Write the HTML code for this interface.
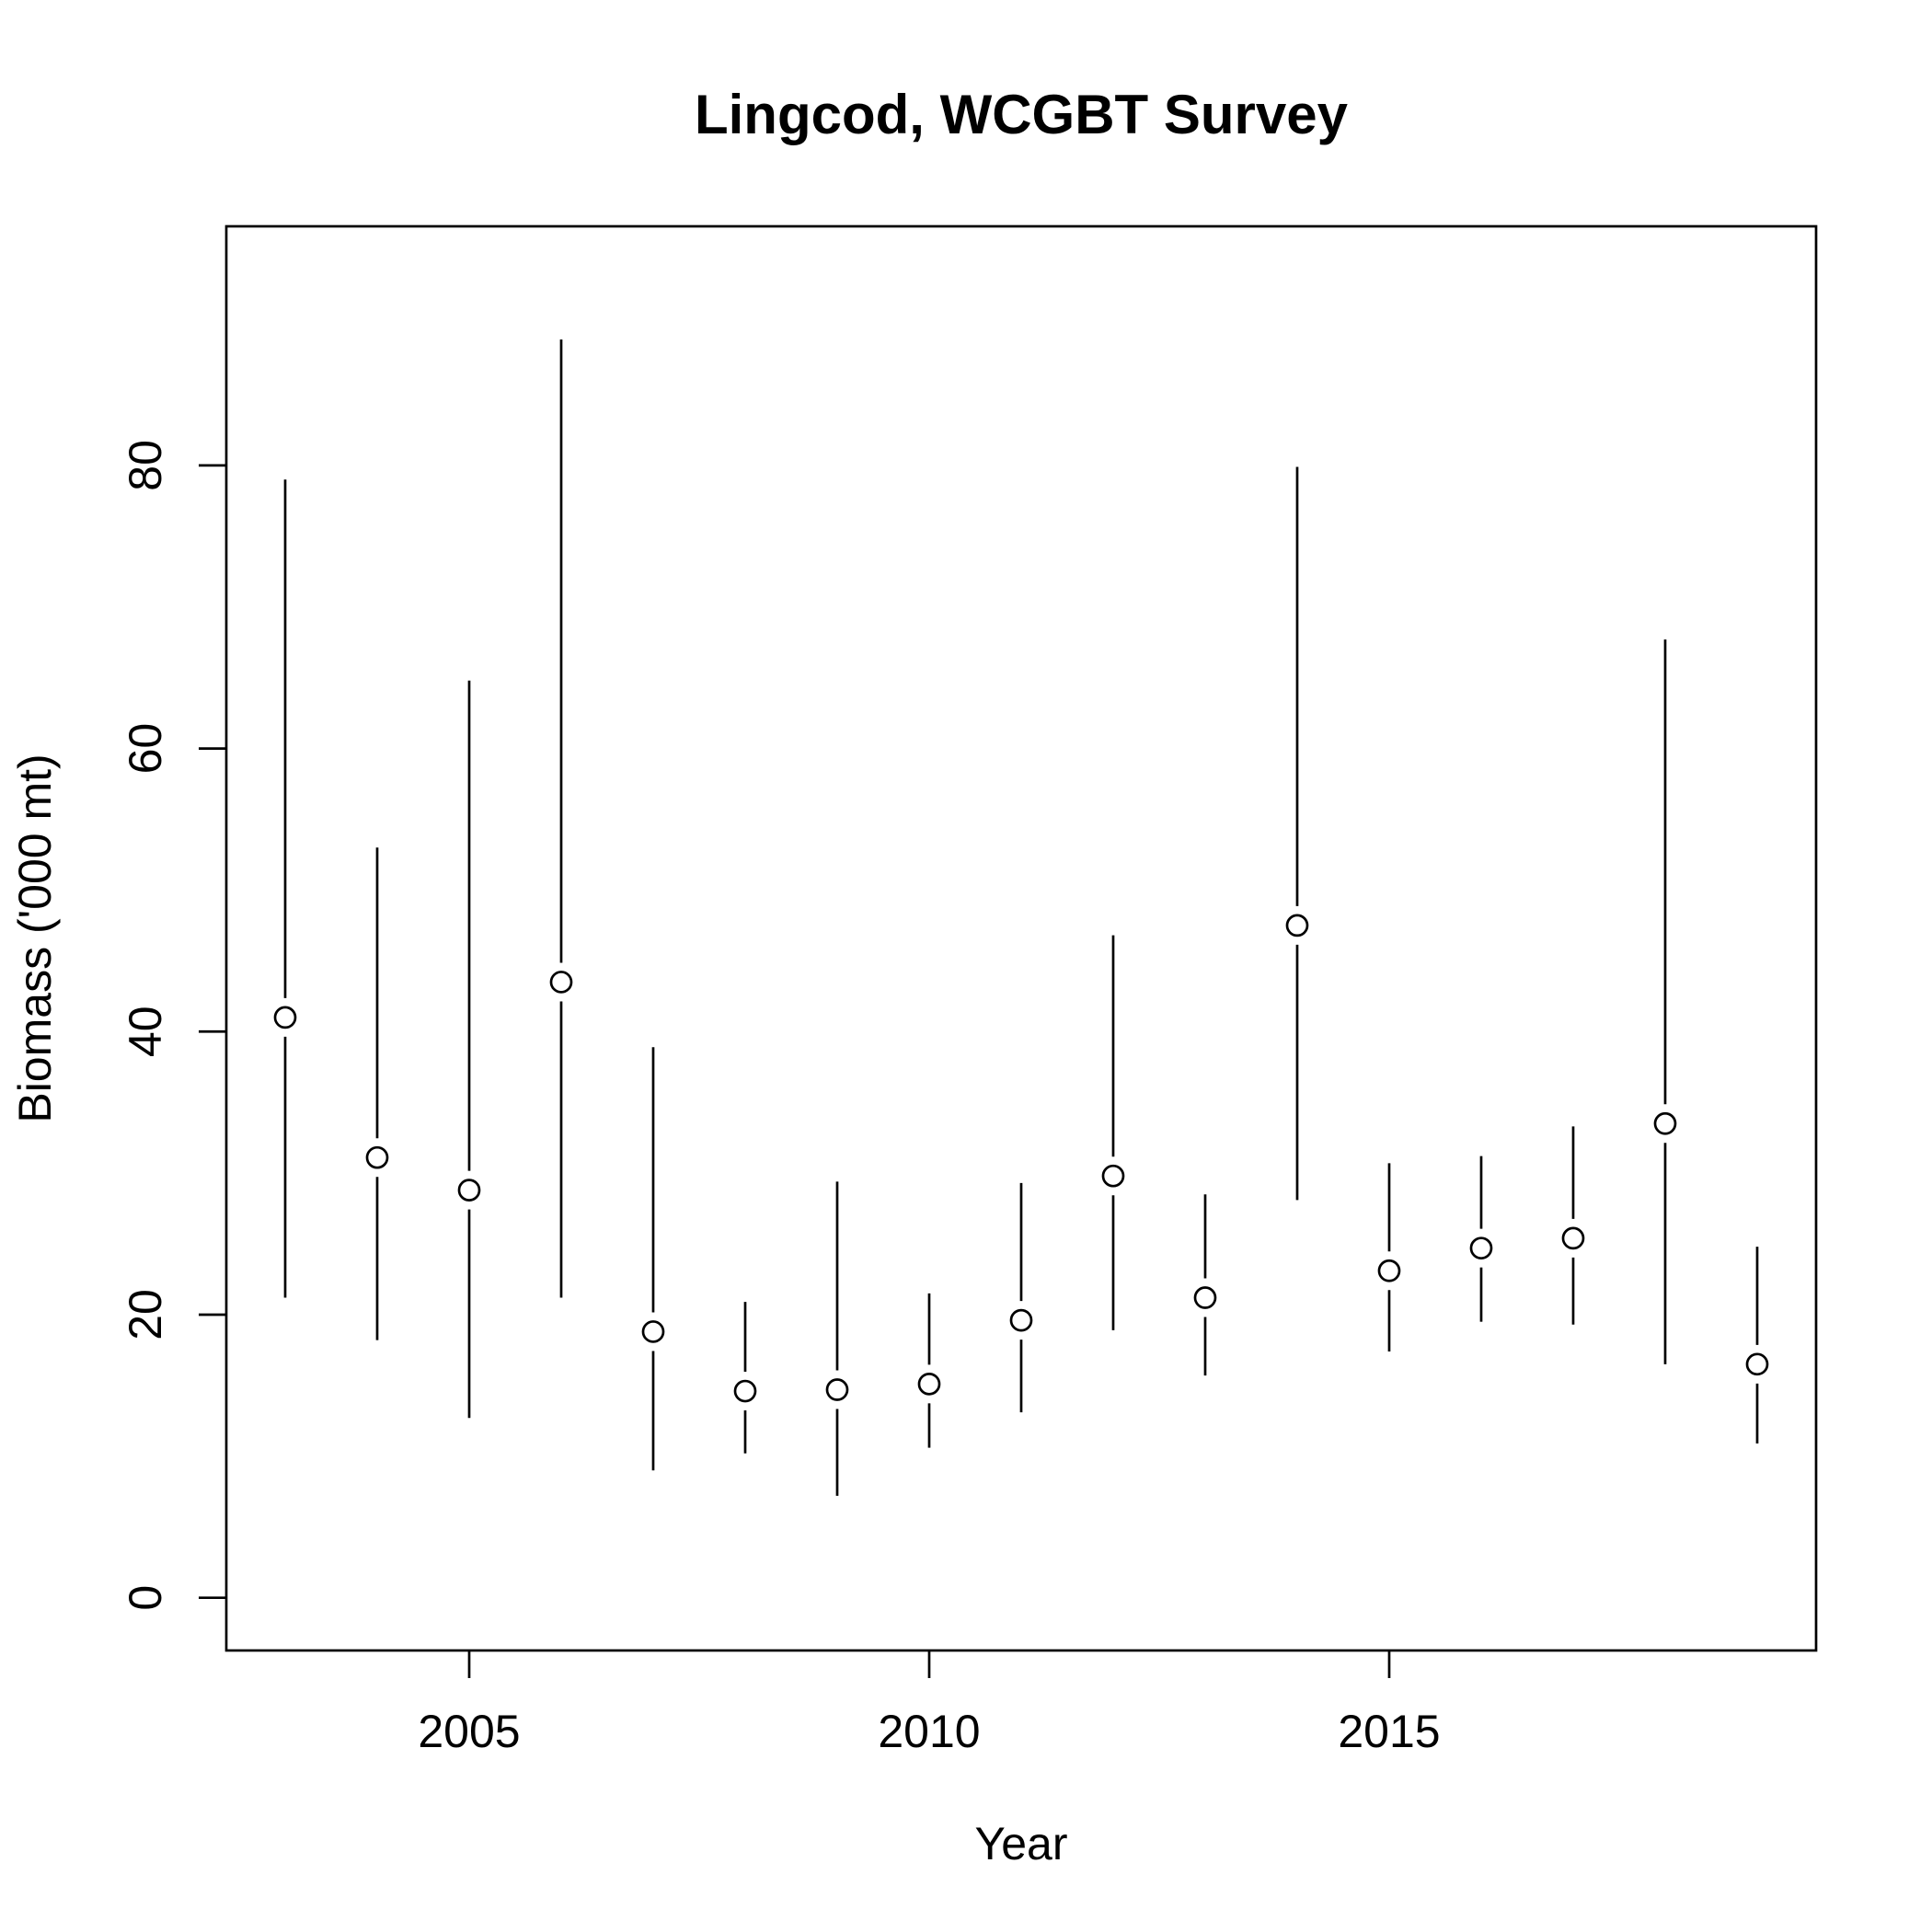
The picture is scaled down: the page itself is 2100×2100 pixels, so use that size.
<!DOCTYPE html>
<html><head><meta charset="utf-8"><style>
html,body{margin:0;padding:0;background:#fff}
svg{display:block}
text{font-family:"Liberation Sans",Arial,sans-serif;fill:#000}
</style></head><body>
<svg id="chart" width="2100" height="2100" viewBox="0 0 2100 2100" xmlns="http://www.w3.org/2000/svg">
<rect width="2100" height="2100" fill="#fff"/>
<text x="1110" y="145" font-size="60" font-weight="bold" text-anchor="middle">Lingcod, WCGBT Survey</text>
<rect x="246" y="246" width="1728" height="1548" fill="none" stroke="#000" stroke-width="2.7"/>
<g id="xaxis"></g>
<g id="yaxis"></g>
<g id="marks"></g>
<text x="1110" y="2021" font-size="50" text-anchor="middle">Year</text>
<text x="0" y="0" font-size="50" text-anchor="middle" transform="translate(55,1020) rotate(-90)">Biomass ('000 mt)</text>
</svg>
<script>
const years=[2003,2004,2005,2006,2007,2008,2009,2010,2011,2012,2013,2014,2015,2016,2017,2018,2019];
const biomass=[41.0,31.1,28.8,43.5,18.8,14.6,14.7,15.1,19.6,29.8,21.2,47.5,23.1,24.7,25.4,33.5,16.5];
const upper=[79.0,53.0,64.8,88.9,38.9,20.9,29.4,21.5,29.3,46.8,28.5,79.9,30.7,31.2,33.3,67.7,24.8];
const lower=[21.2,18.2,12.7,21.2,9.0,10.2,7.2,10.6,13.1,18.9,15.7,28.1,17.4,19.5,19.3,16.5,10.9];
const xTicks=[2005,2010,2015];
const yTicks=[0,20,40,60,80];

const NS="http://www.w3.org/2000/svg";
const L=246,R=1974,T=246,B=1794;
const xmin=Math.min(...years),xmax=Math.max(...years);
const xd=(xmax-xmin)*0.04;
const x0=xmin-xd,x1=xmax+xd;
const ymaxv=Math.max(...upper)*1.048;
const yd=ymaxv*0.04;
const y0=-yd,y1=ymaxv+yd;
const sx=v=>L+(v-x0)/(x1-x0)*(R-L);
const sy=v=>B-(v-y0)/(y1-y0)*(B-T);
function mk(tag,attrs,parent){const e=document.createElementNS(NS,tag);for(const k in attrs)e.setAttribute(k,attrs[k]);parent.appendChild(e);return e;}
const xa=document.getElementById('xaxis'),ya=document.getElementById('yaxis'),mg=document.getElementById('marks');
xTicks.forEach(t=>{
  const l=mk('line',{x1:sx(t),x2:sx(t),y1:B,y2:B+30,stroke:'#000','stroke-width':2.7},xa);
  
  
  const tx=mk('text',{x:sx(t),y:1899,'font-size':50,'text-anchor':'middle'},xa);
  tx.textContent=t;
  
  
});
yTicks.forEach(t=>{
  const l=mk('line',{x1:L-30,x2:L,y1:sy(t),y2:sy(t),stroke:'#000','stroke-width':2.7},ya);
  
  
  const tx=mk('text',{x:0,y:0,'font-size':50,'text-anchor':'middle',transform:`translate(175,${sy(t)}) rotate(-90)`},ya);
  tx.textContent=t;
  
  
});
const gap=21;
years.forEach((yr,i)=>{
  const cx=sx(yr),cy=sy(biomass[i]),yu=sy(upper[i]),yl=sy(lower[i]);
  if(cy-gap>yu){const s=mk('line',{x1:cx,x2:cx,y1:yu,y2:cy-gap,stroke:'#000','stroke-width':2.7},mg);
    
    }
  if(yl>cy+gap){const s=mk('line',{x1:cx,x2:cx,y1:cy+gap,y2:yl,stroke:'#000','stroke-width':2.7},mg);
    
    }
  const c=mk('circle',{cx:cx,cy:cy,r:11,fill:'none',stroke:'#000','stroke-width':2.7},mg);
  
  
});
</script>
</body></html>
